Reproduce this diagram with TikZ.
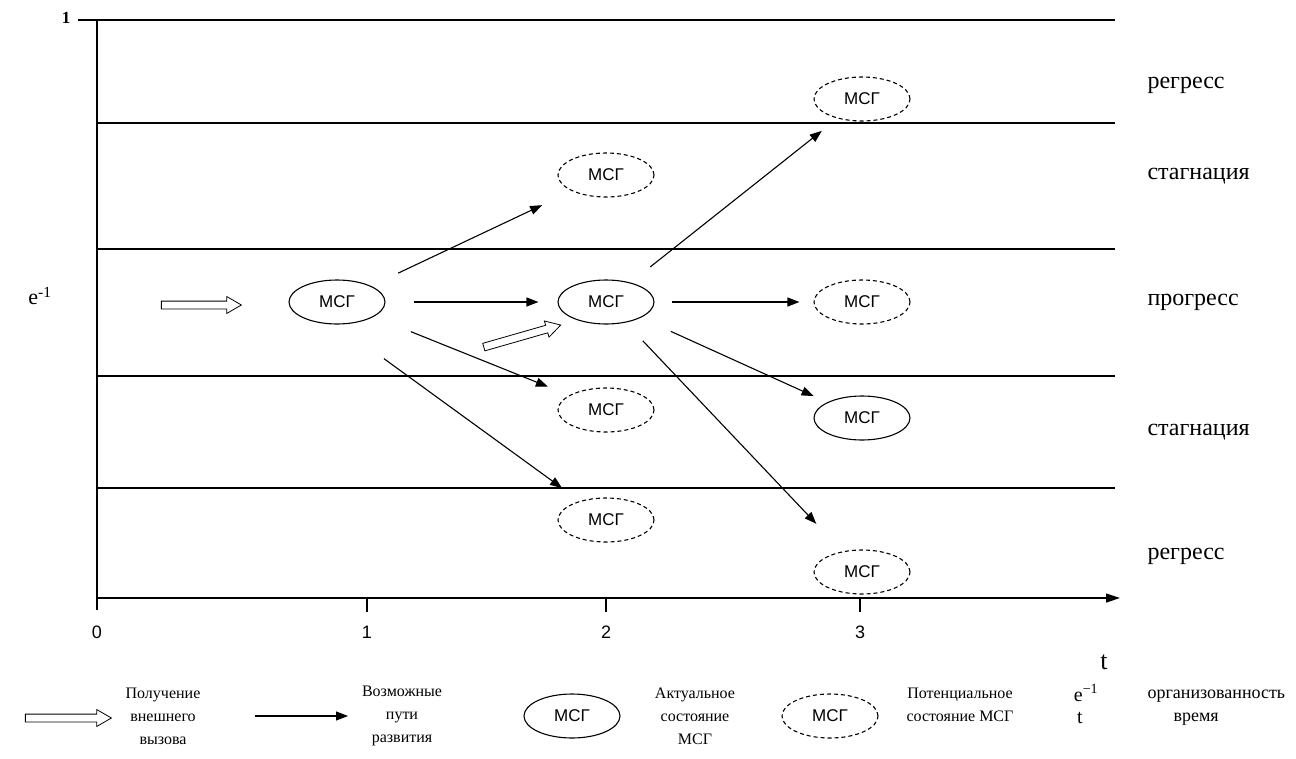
\documentclass[tikz,border=0pt]{standalone}
\usepackage{fontspec}
\setmainfont{Liberation Serif}
\newfontfamily\arialfont{Liberation Sans}
\usetikzlibrary{shapes.geometric,shapes.arrows,arrows.meta}
\begin{document}
\begin{tikzpicture}[x=1pt,y=-1pt]
\newcommand{\colone}{337}
\newcommand{\coltwo}{606}
\newcommand{\colthree}{862}
\tikzstyle{actual}=[draw,line width=1.1pt,ellipse,minimum width=96pt,minimum height=44pt,inner sep=0pt,font=\arialfont\fontsize{17}{17}\selectfont]
\tikzstyle{potential}=[actual,dash pattern=on 4pt off 3pt]
\tikzstyle{way}=[line width=1.1pt,-{Triangle[length=12pt,width=9pt]}]
\tikzstyle{challenge}=[draw,thick,single arrow,minimum height=80pt,minimum width=16pt,inner sep=3.5pt,single arrow head extend=4.5pt,single arrow tip angle=60]
\tikzstyle{band}=[line width=1.2pt]
\tikzstyle{zone}=[anchor=west,font=\fontsize{24}{24}\selectfont]
\tikzstyle{tick}=[font=\arialfont\fontsize{18}{18}\selectfont]
\tikzstyle{legend}=[align=center,font=\fontsize{16}{23}\selectfont]
\useasboundingbox (0,0) rectangle (1296,758);
% axes and bands
\coordinate (o) at (97,610);
\coordinate (top) at (97,20);
\coordinate (topl) at (78,20);
\coordinate (topr) at (1115,20);
\coordinate (xa) at (97,598);
\coordinate (xb) at (1120,598);
\draw[band] (o) -- (top);
\draw[band] (topl) -- (topr);
\draw[band,-{Triangle[length=14pt,width=9pt]}] (xa) -- (xb);
\foreach \y in {123,249,376,488}
  \draw[band] (97,\y) -- (1115,\y);
\node[tick] (t0) at (97,632) {0};
\foreach \x/\l in {367/1,606/2,860/3} {
  \draw[band] (\x,598) -- (\x,612);
  \node[tick] (t\l) at (\x,632) {\l};
}
\node[font=\fontsize{17}{17}\selectfont\bfseries] (one) at (66,18) {1};
\node[font=\fontsize{22}{22}\selectfont] (org) at (40,296) {e\textsuperscript{-1}};
\node[font=\fontsize{26}{26}\selectfont] (time) at (1104,662) {t};
% zones
\node[zone] (z1) at (1144,85) {регресс};
\node[zone] (z2) at (1144,176) {стагнация};
\node[zone] (z3) at (1144,302) {прогресс};
\node[zone] (z4) at (1144,432) {стагнация};
\node[zone] (z5) at (1144,556) {регресс};
% states
\node[actual] (m1) at (\colone,302) {МСГ};
\node[actual] (m2) at (\coltwo,302) {МСГ};
\node[potential] (p2a) at (\coltwo,175) {МСГ};
\node[potential] (p2b) at (\coltwo,410) {МСГ};
\node[potential] (p2c) at (\coltwo,520) {МСГ};
\node[potential] (p3a) at (\colthree,99) {МСГ};
\node[potential] (p3b) at (\colthree,302) {МСГ};
\node[actual] (m3) at (\colthree,418) {МСГ};
\node[potential] (p3c) at (\colthree,572) {МСГ};
\node[challenge] (c1) at (198,305) {};
\node[challenge,rotate=16] (c2) at (519,337) {};
% paths
\draw[way,shorten <=30pt,shorten >=33pt] (m1) -- (p2a);
\draw[way,shorten <=28pt,shorten >=19pt] (m1) -- (m2);
\draw[way,shorten <=40pt,shorten >=23pt] (m1) -- (p2b);
\draw[way,shorten <=58pt,shorten >=22pt] (m1.south) -- (p2c);
\draw[way,shorten <=25pt,shorten >=20pt] (m2) -- (p3a);
\draw[way,shorten <=17pt,shorten >=14pt] (m2) -- (p3b);
\draw[way,shorten <=33pt,shorten >=15pt] (m2) -- (m3);
\draw[way,shorten <=25pt,shorten >=38pt] (m2) -- (p3c);
% legend
\node[challenge,minimum height=86pt] (lc) at (65,718) {};
\node[legend] (lct) at (163,716) {Получение\\внешнего\\вызова};
\coordinate (lw1) at (255,716);
\coordinate (lw2) at (348,716);
\draw[way] (lw1) -- (lw2);
\node[legend] (lwt) at (402,716) {Возможные\\пути\\развития};
\node[actual] (la) at (572,716) {МСГ};
\node[legend] (lat) at (695,716) {Актуальное\\состояние\\МСГ};
\node[potential] (lp) at (830,716) {МСГ};
\node[legend] (lpt) at (960,705) {Потенциальное\\состояние МСГ};
\node[font=\fontsize{20}{20}\selectfont] (le) at (1086,693) {e\textsuperscript{−1}};
\node[font=\fontsize{20}{20}\selectfont] (lt) at (1080,718) {t};
\node[anchor=west,font=\fontsize{18}{18}\selectfont] (lorg) at (1144,696) {организованность};
\node[anchor=west,font=\fontsize{18}{18}\selectfont] (ltime) at (1170,719) {время};
\end{tikzpicture}
\end{document}
